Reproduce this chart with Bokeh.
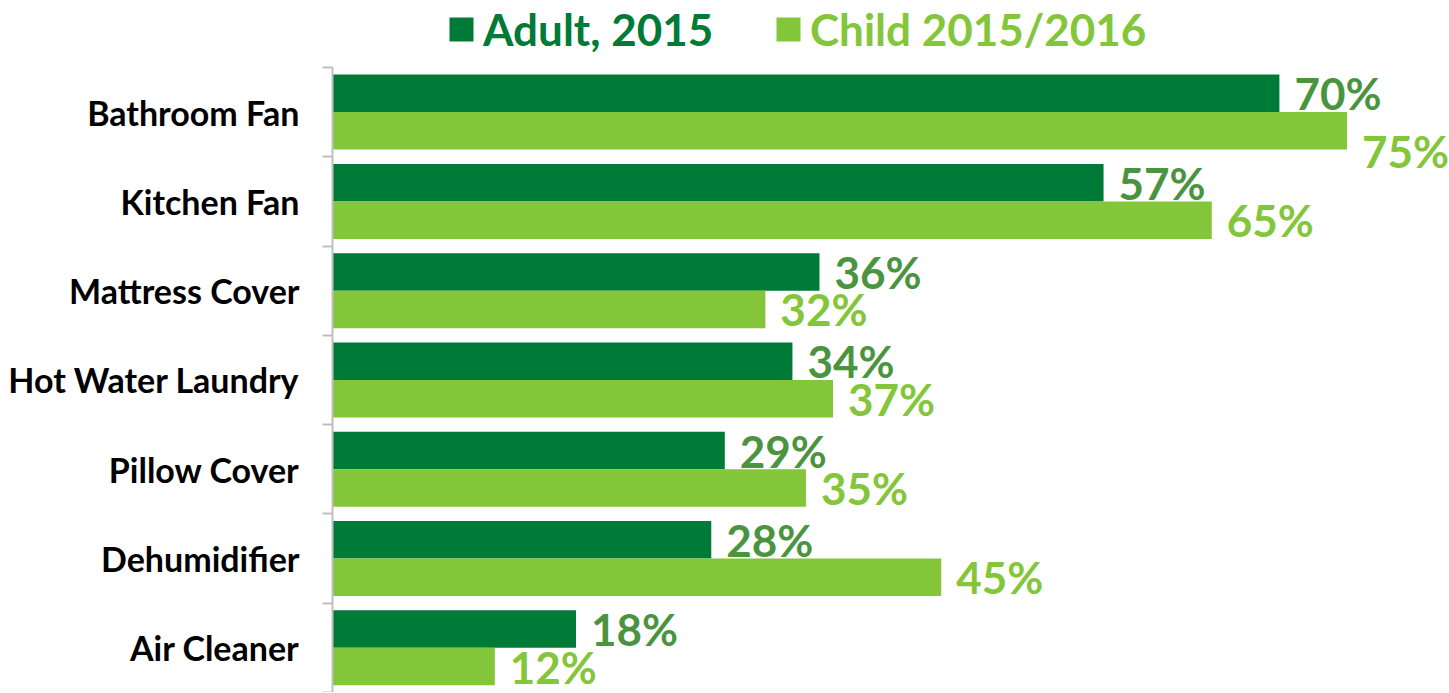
from bokeh.plotting import figure
from bokeh.models import ColumnDataSource, Range1d, FixedTicker, Legend, LegendItem
from bokeh.embed import file_html
from bokeh.resources import INLINE
from bokeh.core.properties import value

categories = ["Bathroom Fan", "Kitchen Fan", "Mattress Cover", "Hot Water Laundry",
              "Pillow Cover", "Dehumidifier", "Air Cleaner"]
adult = [70, 57, 36, 34, 29, 28, 18]
child = [75, 65, 32, 37, 35, 45, 12]
series_names = ["Adult, 2015", "Child 2015/2016"]

# styles
ADULT_BAR = "#007A37"
CHILD_BAR = "#84C639"
ADULT_TXT = "#4A9440"
CHILD_TXT = "#84C63A"
FONT = "Lato"
BAR = 0.42
TOP_SPACE = 0.75  # room above the first category for the legend
child_label_dy = [20, 0, 0, 0, 0, 0, 0]

n = len(categories)
centers = [i + 1 for i in range(n)]
src = ColumnDataSource(dict(
    cat=categories,
    y_a=[c - BAR / 2 for c in centers],
    y_c=[c + BAR / 2 for c in centers],
    adult=adult, child=child,
    adult_lbl=[f"{v}%" for v in adult],
    child_lbl=[f"{v}%" for v in child],
    child_dy=child_label_dy,
))

p = figure(width=1448, height=692, x_range=Range1d(0, 82.5),
           y_range=Range1d(n + 0.5, 0.5 - TOP_SPACE),
           output_backend="svg", toolbar_location=None, x_axis_location=None,
           min_border_left=332, min_border_right=0, min_border_top=0, min_border_bottom=0)
p.outline_line_color = None
p.xgrid.visible = False
p.ygrid.visible = False

ax = p.yaxis[0]
ax.bounds = (0.5, n + 0.5)
ax.ticker = FixedTicker(ticks=centers, minor_ticks=[c + 0.5 for c in range(n + 1)])
ax.major_label_overrides = {c: name for c, name in zip(centers, categories)}
ax.major_tick_out = 0
ax.major_tick_in = 0
ax.minor_tick_out = 10
ax.minor_tick_in = 0
ax.minor_tick_line_color = "#BFBFBF"
ax.minor_tick_line_width = 2
ax.axis_line_color = "#BFBFBF"
ax.axis_line_width = 2
ax.major_label_standoff = 23
ax.major_label_text_font = FONT
ax.major_label_text_font_style = "bold"
ax.major_label_text_font_size = "34px"
ax.major_label_text_color = "#000000"

ra = p.hbar(y="y_a", left=0, right="adult", height=BAR, source=src,
            fill_color=ADULT_BAR, line_color=None)
rc = p.hbar(y="y_c", left=0, right="child", height=BAR, source=src,
            fill_color=CHILD_BAR, line_color=None)

p.text(x="adult", y="y_a", text="adult_lbl", source=src, x_offset=15,
       text_baseline="middle", text_align="left", text_font=value(FONT),
       text_font_style="bold", text_font_size="44px", text_color=ADULT_TXT)
p.text(x="child", y="y_c", text="child_lbl", source=src, x_offset=15, y_offset="child_dy",
       text_baseline="middle", text_align="left", text_font=value(FONT),
       text_font_style="bold", text_font_size="44px", text_color=CHILD_TXT)

for r, name, col, loc in [(ra, series_names[0], ADULT_BAR, (114, 637)),
                          (rc, series_names[1], CHILD_BAR, (441, 637))]:
    leg = Legend(items=[LegendItem(label=name, renderers=[r])], location=loc,
                 glyph_width=30, glyph_height=30, label_standoff=7,
                 label_text_font=FONT, label_text_font_style="bold",
                 label_text_font_size="44px", label_text_color=col,
                 padding=0, margin=0, border_line_color=None,
                 background_fill_alpha=0)
    p.add_layout(leg)

open("out.html", "w").write(file_html(p, INLINE))
